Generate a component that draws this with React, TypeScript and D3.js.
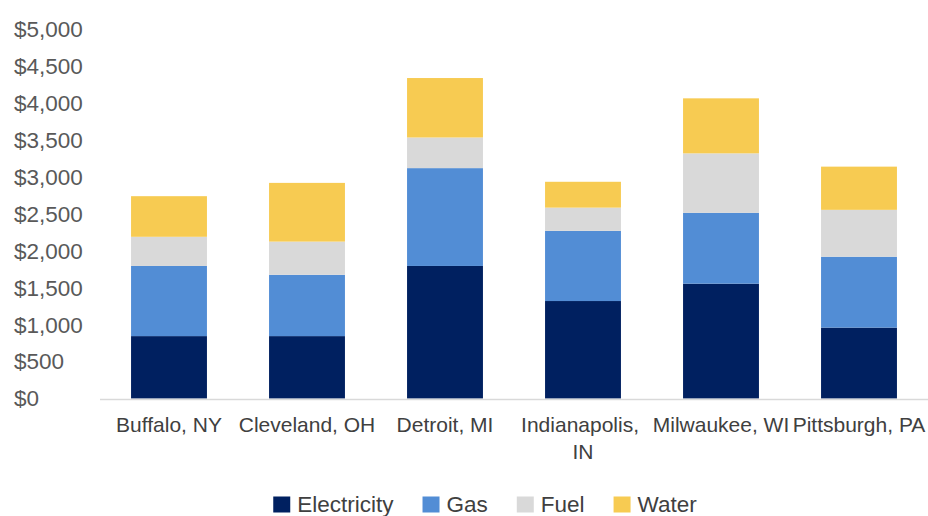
import { useEffect, useRef } from "react";
import * as d3 from "d3";

const cities = [
  "Buffalo, NY",
  "Cleveland, OH",
  "Detroit, MI",
  "Indianapolis, IN",
  "Milwaukee, WI",
  "Pittsburgh, PA",
];
const series = ["Electricity", "Gas", "Fuel", "Water"];
const electricity = [845, 845, 1795, 1320, 1555, 960];
const gas = [950, 830, 1325, 950, 960, 960];
const fuel = [395, 450, 415, 315, 805, 635];
const water = [550, 795, 805, 350, 745, 585];
const yTicks = [0, 500, 1000, 1500, 2000, 2500, 3000, 3500, 4000, 4500, 5000];

const colors = ["#002060", "#528dd5", "#d9d9d9", "#f7cb52"];

// long labels wrap onto a second line, like the source
const labelLines: Record<string, string[]> = {
  "Indianapolis, IN": ["Indianapolis, ", "IN"],
};

const font = "Liberation Sans, Arial, sans-serif";

export default function App() {
  const svgRef = useRef<SVGSVGElement>(null);
  const width = 928;
  const height = 516;

  useEffect(() => {
    if (!svgRef.current) return;
    const svg = d3.select(svgRef.current);
    svg.selectAll("*").remove();

    const rows = cities.map((c, i) => ({
      city: c,
      Electricity: electricity[i],
      Gas: gas[i],
      Fuel: fuel[i],
      Water: water[i],
    }));
    const stacked = d3.stack<any>().keys(series)(rows);

    const x = d3
      .scaleBand()
      .domain(cities)
      .range([100, 928])
      .paddingInner(0.45)
      .paddingOuter(0.225);
    const y = d3.scaleLinear().domain([0, 5000]).range([398.5, 29.3]);

    // bars
    svg
      .append("g")
      .selectAll("g")
      .data(stacked)
      .join("g")
      .attr("fill", (_, i) => colors[i])
      .selectAll("rect")
      .data((d) => d)
      .join("rect")
      .attr("x", (d) => x(d.data.city) ?? 0)
      .attr("width", x.bandwidth())
      .attr("y", (d) => y(d[1]))
      .attr("height", (d) => y(d[0]) - y(d[1]));

    // baseline
    svg
      .append("line")
      .attr("x1", 100)
      .attr("x2", 928)
      .attr("y1", 399.5)
      .attr("y2", 399.5)
      .attr("stroke", "#d9d9d9")
      .attr("stroke-width", 1.5);

    // y tick labels (left aligned, as in the source)
    svg
      .append("g")
      .selectAll("text")
      .data(yTicks)
      .join("text")
      .attr("x", 14)
      .attr("y", (d) => y(d))
      .attr("dy", "0.35em")
      .attr("font-family", font)
      .attr("font-size", 22.5)
      .attr("fill", "#595959")
      .text((d) => "$" + d3.format(",")(d));

    // category labels
    const cat = svg
      .append("g")
      .selectAll("text")
      .data(cities)
      .join("text")
      .attr("x", (d) => (x(d) ?? 0) + x.bandwidth() / 2)
      .attr("y", 432)
      .attr("text-anchor", "middle")
      .attr("font-family", font)
      .attr("font-size", 21)
      .attr("fill", "#404040")
      .attr("xml:space", "preserve");
    cat
      .selectAll("tspan")
      .data((d) => (labelLines[d] ?? [d]).map((t) => ({ t, c: d })))
      .join("tspan")
      .attr("x", (d) => (x(d.c) ?? 0) + x.bandwidth() / 2)
      .attr("dy", (_, i) => (i === 0 ? 0 : 27))
      .text((d) => d.t);

    // legend
    const legend = svg.append("g");
    const items = legend.selectAll("g").data(series).join("g");
    items
      .append("rect")
      .attr("width", 17)
      .attr("height", 16)
      .attr("y", 496.5)
      .attr("fill", (_, i) => colors[i]);
    items
      .append("text")
      .attr("x", 24)
      .attr("y", 512)
      .attr("font-family", font)
      .attr("font-size", 22.5)
      .attr("fill", "#404040")
      .text((d) => d);

    // lay the legend out from measured text widths, centred at 485
    const gap = 29;
    let offset = 0;
    const pos: number[] = [];
    items.each(function () {
      const w = (this as SVGGElement).querySelector("text")!.getComputedTextLength();
      pos.push(offset);
      offset += 24 + w + gap;
    });
    const total = offset - gap;
    const start = 485 - total / 2;
    items.attr("transform", (_, i) => `translate(${start + pos[i]},0)`);
  }, []);

  return (
    <svg
      ref={svgRef}
      width={width}
      height={height}
      style={{ position: "absolute", left: 0, top: 0, background: "#fff" }}
    />
  );
}
